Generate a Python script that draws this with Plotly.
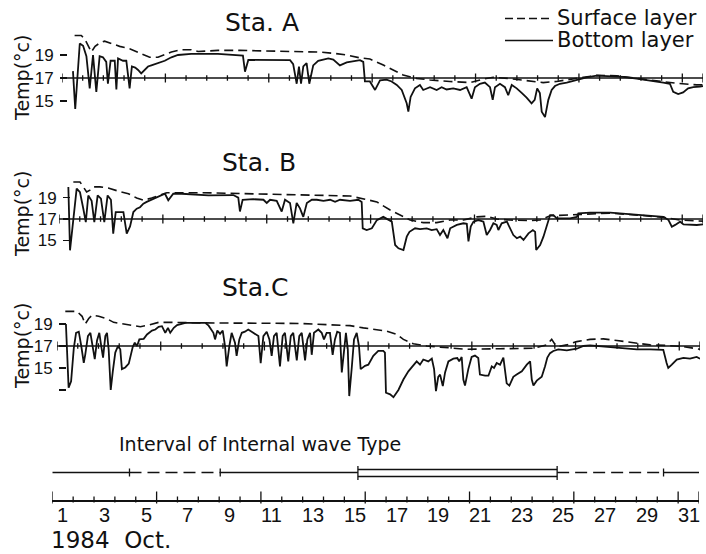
import plotly.graph_objects as go

W, H = 706, 554

# ---------------- data (day of October, temperature degC) ----------------
sta_a_surface = [
    (1.61, 20.7), (1.93, 20.7), (2.10, 20.4), (2.26, 19.75), (2.42, 19.26), (2.60, 19.75),
    (2.82, 20.04), (3.06, 20.2), (3.38, 20.0), (3.79, 19.75), (4.27, 19.55), (4.59, 19.3),
    (4.92, 19.03), (5.24, 18.8), (5.64, 18.8), (5.97, 19.03), (6.29, 19.26), (6.77, 19.46),
    (7.25, 19.46), (7.58, 19.3), (8.21, 19.4), (8.54, 19.4), (9.61, 19.4), (11.54, 19.3),
    (13.48, 19.25), (14.12, 19.15), (14.77, 19.0), (15.41, 18.75), (15.89, 18.65),
    (16.54, 18.13), (17.02, 17.7), (17.50, 17.26), (18.15, 16.97), (18.80, 16.83),
    (19.76, 16.7), (20.73, 16.6), (21.37, 16.9), (21.86, 17.06), (22.66, 16.95),
    (23.63, 16.7), (24.27, 16.6), (24.92, 16.7), (25.56, 16.9), (26.21, 17.06),
    (26.86, 17.23), (27.82, 17.2), (28.79, 16.97), (29.76, 16.74), (30.72, 16.54),
    (31.69, 16.4), (32.0, 16.4),
]
sta_a_bottom = [
    (1.53, 17.6), (1.64, 14.3), (1.86, 20.0), (2.02, 19.8), (2.18, 18.9), (2.34, 16.1),
    (2.50, 19.0), (2.66, 15.8), (2.82, 18.9), (2.98, 18.8), (3.14, 18.4), (3.22, 16.5),
    (3.35, 18.5), (3.55, 18.5), (3.63, 16.0), (3.71, 18.7), (3.95, 18.5), (4.11, 18.5),
    (4.27, 16.1), (4.38, 18.0), (4.54, 17.9), (4.68, 17.7), (4.83, 17.4), (5.00, 17.7),
    (5.16, 18.0), (5.32, 18.1), (5.64, 18.3), (5.97, 18.5), (6.29, 18.8), (6.61, 19.0),
    (7.25, 19.1), (8.54, 19.1), (9.75, 18.95), (9.85, 17.55), (10.01, 18.57), (11.88, 18.6),
    (12.03, 18.55), (12.18, 18.2), (12.35, 16.5), (12.46, 18.0), (12.56, 16.5), (12.67, 18.0),
    (12.83, 18.3), (12.96, 16.5), (13.15, 18.1), (13.39, 18.5), (13.64, 18.6), (13.88, 18.7),
    (14.12, 18.6), (14.44, 18.1), (14.77, 18.35), (15.41, 18.55), (15.57, 18.4), (15.65, 16.7),
    (15.89, 16.7), (16.14, 15.96), (16.38, 16.8), (16.70, 16.85), (16.94, 16.7), (17.19, 16.4),
    (17.43, 15.96), (17.67, 14.8), (17.75, 14.07), (17.86, 15.35), (18.07, 16.1), (18.31, 16.4),
    (18.47, 15.96), (18.80, 16.2), (19.12, 15.96), (19.36, 16.2), (19.60, 16.0), (19.92, 16.1),
    (20.25, 15.96), (20.57, 16.2), (20.81, 15.2), (20.97, 16.2), (21.21, 16.5), (21.45, 16.6),
    (21.70, 16.2), (21.83, 15.1), (21.94, 16.2), (22.18, 16.5), (22.42, 16.2), (22.58, 15.5),
    (22.75, 16.4), (22.99, 16.1), (23.23, 15.7), (23.47, 15.3), (23.71, 14.8), (23.86, 15.1),
    (23.98, 16.1), (24.11, 15.7), (24.20, 14.07), (24.36, 13.6), (24.52, 15.1), (24.68, 15.96),
    (24.84, 16.3), (25.08, 16.5), (25.41, 16.6), (25.73, 16.77), (26.05, 16.9), (26.37, 17.06),
    (26.86, 17.2), (27.50, 17.15), (28.14, 17.1), (28.79, 16.95), (29.43, 16.8), (30.08, 16.6),
    (30.40, 16.5), (30.56, 15.8), (30.80, 15.6), (31.04, 15.75), (31.28, 16.1), (31.53, 16.2),
    (31.85, 16.25), (32.0, 16.3),
]
sta_b_surface = [
    (1.69, 20.46), (2.01, 20.46), (2.17, 20.0), (2.33, 19.52), (2.49, 19.7), (2.65, 20.0),
    (2.97, 20.0), (3.37, 19.9), (3.86, 19.6), (4.34, 19.36), (4.74, 18.96), (5.06, 18.75),
    (5.46, 18.96), (5.78, 19.2), (6.19, 19.46), (7.87, 19.46), (9.38, 19.4), (12.60, 19.3),
    (15.01, 19.15), (15.73, 18.85), (16.30, 18.6), (16.94, 17.84), (17.42, 17.37),
    (17.90, 16.9), (18.54, 16.66), (19.18, 16.66), (19.83, 16.9), (20.47, 16.9),
    (21.11, 17.2), (21.59, 17.25), (22.07, 17.0), (22.71, 16.9), (23.68, 16.85),
    (24.16, 16.9), (24.64, 17.3), (25.93, 17.4), (27.53, 17.55), (28.97, 17.35),
    (30.10, 17.15), (30.90, 16.9), (32.0, 16.8),
]
sta_b_bottom = [
    (1.45, 20.0), (1.53, 14.07), (1.85, 19.83), (2.01, 19.5), (2.17, 17.96), (2.29, 16.7),
    (2.41, 19.2), (2.57, 18.7), (2.70, 16.7), (2.86, 19.2), (3.02, 18.9), (3.18, 16.7),
    (3.34, 19.2), (3.50, 18.8), (3.61, 15.63), (3.73, 17.65), (3.94, 17.65), (4.10, 17.65),
    (4.26, 15.63), (4.42, 16.3), (4.58, 17.65), (4.74, 17.96), (4.90, 18.1), (5.06, 18.43),
    (5.22, 18.6), (5.38, 18.75), (5.62, 18.9), (5.94, 19.2), (6.10, 19.36), (6.26, 18.75),
    (6.50, 19.36), (6.91, 19.36), (7.55, 19.3), (8.19, 19.2), (9.39, 19.24), (9.63, 19.0),
    (9.71, 17.7), (9.84, 18.8), (10.35, 18.85), (10.84, 18.8), (11.00, 18.5), (11.16, 18.8),
    (11.48, 18.7), (11.72, 17.7), (11.88, 18.8), (12.12, 18.5), (12.28, 16.6), (12.44, 18.5),
    (12.60, 18.0), (12.76, 17.2), (12.93, 18.5), (13.17, 18.8), (13.41, 18.8), (13.73, 18.7),
    (14.05, 18.8), (14.29, 18.6), (14.53, 18.8), (15.01, 18.7), (15.41, 18.8), (15.57, 18.6),
    (15.62, 16.13), (15.81, 15.97), (16.06, 16.13), (16.30, 16.9), (16.61, 17.2), (16.85, 16.9),
    (17.02, 16.75), (17.18, 14.57), (17.34, 14.26), (17.58, 14.1), (17.74, 15.35), (17.87, 15.8),
    (17.98, 15.97), (18.14, 16.13), (18.38, 16.05), (18.70, 16.13), (18.94, 15.97), (19.18, 16.05),
    (19.34, 15.5), (19.50, 15.97), (19.70, 15.2), (19.83, 16.13), (20.15, 16.45), (20.47, 16.6),
    (20.63, 16.55), (20.71, 14.9), (20.82, 16.3), (20.95, 16.75), (21.19, 16.9), (21.43, 16.75),
    (21.59, 15.5), (21.75, 15.97), (21.91, 16.6), (22.07, 16.45), (22.15, 15.97), (22.31, 16.6),
    (22.56, 16.75), (22.72, 16.13), (22.87, 15.5), (23.04, 15.2), (23.20, 15.35), (23.36, 15.04),
    (23.60, 15.66), (23.81, 15.97), (23.92, 15.8), (23.97, 14.1), (24.16, 14.57), (24.32, 15.35),
    (24.48, 16.4), (24.64, 17.37), (24.80, 17.37), (24.96, 17.06), (25.60, 17.06), (25.93, 17.2),
    (26.00, 17.53), (26.57, 17.6), (27.53, 17.6), (28.65, 17.45), (28.97, 17.37), (30.10, 17.2),
    (30.34, 16.9), (30.50, 16.28), (30.66, 16.45), (30.90, 16.75), (31.06, 16.5), (31.70, 16.44),
    (32.0, 16.5),
]
sta_c_surface = [
    (1.40, 20.15), (1.96, 20.15), (2.21, 19.7), (2.36, 19.0), (2.53, 19.5), (2.69, 19.8),
    (3.01, 19.7), (3.41, 19.47), (3.73, 19.15), (4.22, 19.0), (4.62, 18.87), (5.02, 18.75),
    (5.42, 18.9), (5.90, 19.15), (6.54, 19.15), (7.99, 19.1), (12.72, 19.05), (15.13, 18.85),
    (15.77, 18.65), (16.41, 18.5), (16.90, 18.35), (17.38, 18.05), (17.70, 17.6), (18.18, 17.2),
    (18.83, 17.0), (19.47, 16.9), (20.11, 16.8), (20.75, 16.7), (22.36, 16.75), (23.97, 16.8),
    (24.61, 17.1), (24.85, 17.6), (25.01, 17.15), (25.17, 16.95), (25.58, 17.1), (26.06, 17.4),
    (26.70, 17.6), (27.34, 17.65), (27.99, 17.5), (28.79, 17.3), (29.59, 17.1), (30.39, 17.05),
    (31.19, 16.95), (32.0, 16.7),
]
sta_c_bottom = [
    (1.43, 19.0), (1.56, 13.2), (1.68, 13.8), (1.81, 16.8), (1.92, 18.2), (2.05, 18.3),
    (2.17, 17.0), (2.29, 15.46), (2.36, 16.2), (2.49, 17.9), (2.61, 18.2), (2.72, 16.9),
    (2.82, 15.8), (2.93, 17.5), (3.04, 18.2), (3.14, 16.9), (3.22, 15.95), (3.33, 17.9),
    (3.41, 18.2), (3.49, 16.7), (3.59, 13.0), (3.69, 14.7), (3.81, 16.4), (3.94, 17.0),
    (4.05, 16.7), (4.13, 14.9), (4.29, 15.05), (4.46, 15.4), (4.58, 16.2), (4.65, 16.9),
    (4.75, 17.3), (4.86, 17.0), (4.97, 17.6), (5.18, 17.65), (5.34, 18.05), (5.58, 18.4),
    (5.74, 18.5), (5.90, 18.75), (6.06, 18.8), (6.22, 18.2), (6.35, 18.65), (6.46, 18.2),
    (6.63, 18.65), (6.79, 18.9), (7.19, 19.1), (8.15, 19.1), (8.31, 18.85), (8.38, 18.65),
    (8.54, 18.2), (8.62, 17.6), (8.73, 18.4), (8.86, 18.1), (8.99, 18.4), (9.10, 17.0),
    (9.18, 15.15), (9.31, 17.0), (9.42, 18.2), (9.58, 17.3), (9.66, 16.1), (9.79, 17.6),
    (9.91, 18.2), (10.06, 18.3), (10.22, 18.5), (10.46, 18.2), (10.71, 17.9), (10.82, 15.43),
    (10.95, 17.9), (11.11, 18.3), (11.24, 17.6), (11.35, 16.1), (11.46, 17.9), (11.59, 18.2),
    (11.75, 15.15), (11.88, 17.9), (11.99, 18.2), (12.15, 15.6), (12.27, 17.9), (12.39, 18.2),
    (12.56, 15.7), (12.68, 17.9), (12.80, 18.2), (12.96, 15.7), (13.07, 17.6), (13.20, 18.2),
    (13.28, 16.2), (13.39, 18.2), (13.60, 18.5), (13.76, 18.2), (13.87, 17.6), (14.00, 18.2),
    (14.16, 18.2), (14.29, 16.2), (14.40, 17.6), (14.51, 18.3), (14.64, 18.2), (14.73, 14.6),
    (14.84, 16.4), (14.93, 18.2), (15.02, 16.7), (15.09, 12.45), (15.21, 15.0), (15.32, 17.6),
    (15.45, 18.2), (15.56, 17.0), (15.64, 14.9), (15.85, 15.2), (16.01, 15.3), (16.25, 16.1),
    (16.49, 16.55), (16.73, 16.55), (16.81, 16.4), (16.86, 12.75), (17.06, 12.6), (17.22, 12.35),
    (17.46, 13.0), (17.70, 13.95), (17.94, 14.7), (18.18, 15.3), (18.34, 15.6), (18.50, 15.3),
    (18.66, 15.77), (18.90, 15.6), (19.07, 15.85), (19.18, 14.9), (19.27, 12.9), (19.38, 14.2),
    (19.47, 14.4), (19.60, 13.35), (19.71, 14.6), (19.87, 15.6), (20.11, 15.85), (20.30, 15.9),
    (20.39, 15.6), (20.51, 16.0), (20.59, 13.95), (20.67, 13.4), (20.83, 14.9), (20.99, 16.0),
    (21.15, 16.13), (21.31, 15.9), (21.39, 14.4), (21.64, 14.3), (21.80, 14.3), (21.96, 15.15),
    (22.07, 15.0), (22.20, 15.45), (22.36, 15.3), (22.52, 15.95), (22.60, 14.9), (22.68, 13.6),
    (22.81, 13.4), (23.00, 14.2), (23.16, 14.4), (23.41, 14.7), (23.65, 15.3), (23.81, 15.6),
    (23.89, 13.95), (23.97, 13.4), (24.13, 13.85), (24.37, 14.2), (24.53, 15.15), (24.64, 15.95),
    (24.77, 16.35), (24.93, 16.55), (25.17, 16.7), (25.58, 16.6), (26.06, 16.75), (26.38, 17.0),
    (26.70, 17.05), (27.02, 17.0), (27.34, 16.95), (27.82, 16.85), (28.31, 16.8), (28.95, 16.7),
    (29.59, 16.7), (30.23, 16.65), (30.39, 15.46), (30.47, 15.0), (30.64, 15.3), (30.88, 15.77),
    (31.20, 15.92), (31.52, 15.85), (31.84, 16.0), (32.0, 15.85),
]

day_label_values = list(range(1, 32, 2))
day_label_text = [str(d) for d in day_label_values]
major_days = [1, 6, 11, 16, 21, 26, 31, 32]
all_day_marks = list(range(1, 33))
temp_ticks_ab = [15, 17, 19]
temp_ticks_c = [13, 15, 17, 19]
temp_text_ab = ["15", "17", "19"]
temp_text_c = ["", "15", "17", "19"]
interval_types = [
    (1.0, 4.7, "solid"), (4.7, 9.05, "dashed"), (9.05, 15.65, "solid"),
    (15.65, 25.2, "double"), (25.2, 30.3, "dashed"), (30.3, 32.0, "solid"),
]

# ---------------- layout helpers ----------------
BLACK = "#111111"
FONT_W = "DejaVu Sans, Liberation Sans, sans-serif"
FONT_N = "Liberation Sans Narrow, Liberation Sans, Arial, sans-serif"


def py(px):
    return 1 - px / H


def pxx(px):
    return px / W


panels = [
    dict(title="Sta. A", surf=sta_a_surface, bot=sta_a_bottom, x0=62, x1=703, y17=78,
         ppd=11.5, yr=(13, 21.5), yax=67, tv=temp_ticks_ab, tt=temp_text_ab,
         txy=(262, 22), ty=78),
    dict(title="Sta. B", surf=sta_b_surface, bot=sta_b_bottom, x0=59, x1=703, y17=219,
         ppd=10.7, yr=(13, 21.5), yax=70, tv=temp_ticks_ab, tt=temp_text_ab,
         txy=(259, 163), ty=214),
    dict(title="Sta.C", surf=sta_c_surface, bot=sta_c_bottom, x0=57, x1=700, y17=346,
         ppd=11.0, yr=(11.5, 21), yax=66, tv=temp_ticks_c, tt=temp_text_c,
         txy=(255, 287), ty=346),
]

fig = go.Figure()
shapes = []
annotations = []
layout = dict(
    width=W, height=H, autosize=False,
    margin=dict(l=0, r=0, t=0, b=0, pad=0),
    paper_bgcolor="white", plot_bgcolor="white",
    showlegend=False,
)

for i, p in enumerate(panels, start=1):
    xa = "xaxis" if i == 1 else f"xaxis{i}"
    ya = "yaxis" if i == 1 else f"yaxis{i}"
    xr = "x" if i == 1 else f"x{i}"
    yr = "y" if i == 1 else f"y{i}"
    top = p["y17"] - (p["yr"][1] - 17) * p["ppd"]
    bot = p["y17"] + (17 - p["yr"][0]) * p["ppd"]
    layout[xa] = dict(domain=[pxx(p["x0"]), pxx(p["x1"])], range=[1, 32], visible=False,
                      anchor=yr, fixedrange=True)
    layout[ya] = dict(domain=[py(bot), py(top)], range=list(p["yr"]), anchor="free",
                      position=pxx(p["yax"]), showline=False, showgrid=False, zeroline=False,
                      tickvals=p["tv"], ticktext=p["tt"], ticks="outside", ticklen=7,
                      tickwidth=1.6, tickcolor=BLACK, ticklabelstandoff=3,
                      tickfont=dict(family=FONT_N, size=17, color=BLACK), fixedrange=True)
    sx, sy = zip(*p["surf"])
    bx, by = zip(*p["bot"])
    fig.add_trace(go.Scatter(x=sx, y=sy, mode="lines", xaxis=xr, yaxis=yr,
                             line=dict(color=BLACK, width=1.6, dash="9px,5px"),
                             hoverinfo="skip"))
    fig.add_trace(go.Scatter(x=bx, y=by, mode="lines", xaxis=xr, yaxis=yr,
                             line=dict(color=BLACK, width=1.8), hoverinfo="skip"))
    # 17 degC reference line with day marks
    shapes.append(dict(type="line", xref=xr, yref=yr, x0=1, x1=32, y0=17, y1=17,
                       line=dict(color=BLACK, width=1.7), layer="below"))
    for d in all_day_marks:
        half = (4.5 if d in major_days else 2.8) / p["ppd"]
        shapes.append(dict(type="line", xref=xr, yref=yr, x0=d, x1=d, y0=17 - half,
                           y1=17 + half, line=dict(color=BLACK, width=1.3)))
    annotations.append(dict(text=p["title"], xref="paper", yref="paper",
                            x=pxx(p["txy"][0]), y=py(p["txy"][1]), showarrow=False,
                            xanchor="center", yanchor="middle",
                            font=dict(family=FONT_W, size=25, color=BLACK)))
    annotations.append(dict(text="Temp(°c)", xref="paper", yref="paper", x=pxx(22),
                            y=py(p["ty"]), showarrow=False, textangle=-90,
                            xanchor="center", yanchor="middle",
                            font=dict(family=FONT_W, size=19, color=BLACK)))

# ---------------- legend (top right) ----------------
shapes.append(dict(type="line", xref="paper", yref="paper", x0=pxx(505), x1=pxx(551),
                   y0=py(18.5), y1=py(18.5), line=dict(color=BLACK, width=1.5, dash="8px,4px")))
shapes.append(dict(type="line", xref="paper", yref="paper", x0=pxx(505), x1=pxx(553),
                   y0=py(40.5), y1=py(40.5), line=dict(color=BLACK, width=1.7)))
annotations.append(dict(text="Surface layer", xref="paper", yref="paper", x=pxx(555),
                        y=py(18), showarrow=False, xanchor="left", yanchor="middle",
                        font=dict(family=FONT_W, size=21, color=BLACK)))
annotations.append(dict(text="Bottom layer", xref="paper", yref="paper", x=pxx(555),
                        y=py(40), showarrow=False, xanchor="left", yanchor="middle",
                        font=dict(family=FONT_W, size=21, color=BLACK)))

# ---------------- bottom date axis ----------------
layout["xaxis4"] = dict(domain=[pxx(52.3), pxx(699)], range=[1, 32], anchor="free",
                        position=py(500), showline=True, linewidth=1.6, linecolor=BLACK,
                        showgrid=False, zeroline=False, ticks="", showticklabels=False,
                        fixedrange=True)
layout["yaxis4"] = dict(domain=[0, 0.2], range=[0, 1], visible=False, anchor="x4",
                        fixedrange=True)
fig.add_trace(go.Scatter(x=[1], y=[0.5], mode="markers", xaxis="x4", yaxis="y4",
                         marker=dict(opacity=0), hoverinfo="skip"))
for d in all_day_marks:
    if d in major_days:
        y0, y1 = 491.5, 503.5
    else:
        y0, y1 = 496.5, 502.5
    shapes.append(dict(type="line", xref="x4", yref="paper", x0=d, x1=d, y0=py(y0),
                       y1=py(y1), line=dict(color=BLACK, width=1.3)))
for d, lab in zip(day_label_values, day_label_text):
    annotations.append(dict(text=lab, xref="x4", yref="paper", x=d + 0.5, y=py(514.5),
                            showarrow=False, xanchor="center", yanchor="middle",
                            font=dict(family=FONT_N, size=20, color=BLACK)))

# interval of internal wave type
for (a, b, kind) in interval_types:
    if kind == "double":
        for yy in (469.5, 476.5):
            shapes.append(dict(type="line", xref="x4", yref="paper", x0=a, x1=b,
                               y0=py(yy), y1=py(yy), line=dict(color=BLACK, width=1.5)))
    else:
        shapes.append(dict(type="line", xref="x4", yref="paper", x0=a, x1=b,
                           y0=py(472.5), y1=py(472.5),
                           line=dict(color=BLACK, width=1.5,
                                     dash="solid" if kind == "solid" else "12px,6px")))
for (a, b, kind) in interval_types[1:]:
    big = kind == "double" or (a == 25.2)
    y0, y1 = (466, 480) if big else (468.5, 476.5)
    shapes.append(dict(type="line", xref="x4", yref="paper", x0=a, x1=a, y0=py(y0),
                       y1=py(y1), line=dict(color=BLACK, width=1.3)))

annotations.append(dict(text="Interval of Internal wave Type", xref="paper", yref="paper",
                        x=pxx(117), y=py(444), showarrow=False, xanchor="left",
                        yanchor="middle", font=dict(family=FONT_W, size=19, color=BLACK)))
annotations.append(dict(text="1984  Oct.", xref="paper", yref="paper",
                        x=pxx(49), y=py(539.5), showarrow=False, xanchor="left",
                        yanchor="middle", font=dict(family=FONT_W, size=23, color=BLACK)))

layout["shapes"] = shapes
layout["annotations"] = annotations
fig.update_layout(**layout)
fig.write_html("out.html", config={"displayModeBar": False, "staticPlot": True},
               post_script="document.body.style.margin='0';document.body.style.padding='0';")
